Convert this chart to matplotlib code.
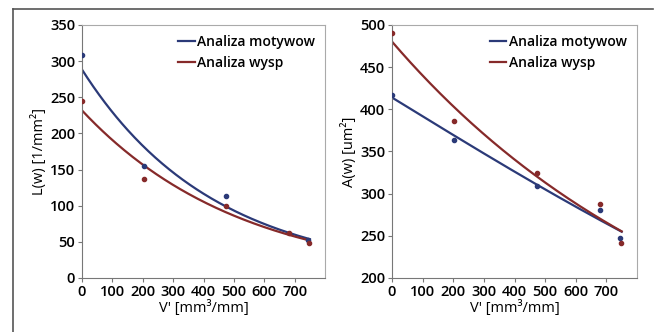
import numpy as np
import matplotlib
matplotlib.use("Agg")
from matplotlib import pyplot as plt
from matplotlib.lines import Line2D

plt.rcParams['font.family'] = ['Open Sans', 'DejaVu Sans']
plt.rcParams['font.weight'] = 'semibold'

# left panel: L(w)
lx_mot = [0, 203, 475, 745]
ly_mot = [308, 155, 113, 52]
lx_wys = [0, 203, 475, 680, 748]
ly_wys = [245, 137, 100, 62, 49]

# right panel: A(w)
ax_mot = [0, 203, 475, 680, 745]
ay_mot = [417, 364, 309, 281, 247]
ax_wys = [0, 203, 475, 680, 748]
ay_wys = [490, 386, 324, 288, 242]

xticks = [0, 100, 200, 300, 400, 500, 600, 700]
blue = '#2b3a78'
red = '#862a2a'

fig = plt.figure(figsize=(6.54, 3.32), dpi=100)

# outer frame (only top and left visible in the original crop)
fig.add_artist(Line2D([0.02, 0.02], [0, 0.973], color='#555555', lw=1.2))
fig.add_artist(Line2D([0.02, 0.998], [0.973, 0.973], color='#555555', lw=1.2))

panels = [
    ([0.1254, 0.1627, 0.3716, 0.762], lx_mot, ly_mot, lx_wys, ly_wys,
     (0, 350), range(0, 351, 50), 'L(w) [1/mm²]'),
    ([0.5994, 0.1627, 0.3746, 0.762], ax_mot, ay_mot, ax_wys, ay_wys,
     (200, 500), range(200, 501, 50), 'A(w) [um²]'),
]

for rect, xm, ym, xw, yw, ylim, yticks, ylabel in panels:
    ax = fig.add_axes(rect)
    xs = np.linspace(0, 750, 200)
    # smooth trend lines fitted to the measured points (quadratic in log space)
    pm = np.polyfit(xm, np.log(ym), 2)
    pw = np.polyfit(xw, np.log(yw), 2)
    ax.plot(xs, np.exp(np.polyval(pm, xs)), color=blue, lw=1.6, label='Analiza motywow')
    ax.plot(xs, np.exp(np.polyval(pw, xs)), color=red, lw=1.6, label='Analiza wysp')
    ax.scatter(xm, ym, s=9, color=blue, zorder=3)
    ax.scatter(xw, yw, s=9, color=red, zorder=3)

    ax.set_xlim(0, 800)
    ax.set_ylim(*ylim)
    ax.set_xticks(xticks)
    ax.set_yticks(list(yticks))
    ax.set_xlabel("V' [mm³/mm]", fontsize=10.5, labelpad=1)
    ax.set_ylabel(ylabel, fontsize=10.5, labelpad=2)
    ax.tick_params(labelsize=10.5, length=3, width=0.8, color='#777777', pad=2)
    for s in ['left', 'bottom']:
        ax.spines[s].set_color('#777777')
    for s in ['top', 'right']:
        ax.spines[s].set_color('#aaaaaa')
    ax.legend(loc='upper right', frameon=False, fontsize=10, handlelength=1.2,
              handletextpad=0.2, borderaxespad=0.3, labelspacing=0.5)

fig.savefig('out.png', dpi=100)
